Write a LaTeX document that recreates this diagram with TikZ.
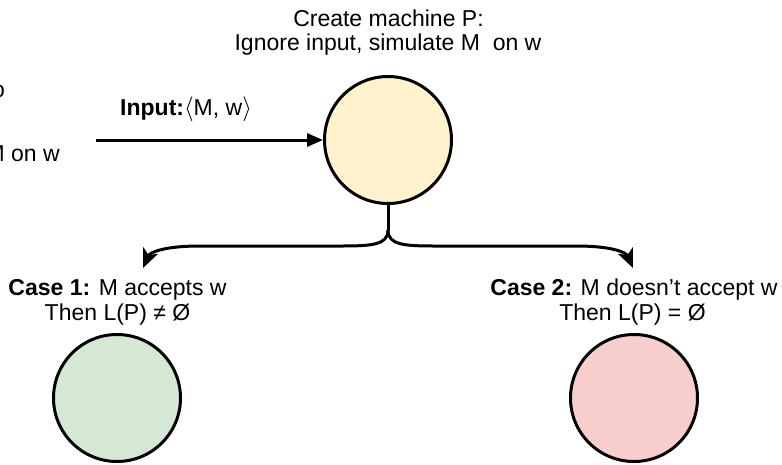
\documentclass[tikz,border=0pt]{standalone}
\usepackage{fontspec}
\setmainfont{Liberation Sans}
\usetikzlibrary{arrows.meta}
\definecolor{startfill}{HTML}{FFF2CC}
\definecolor{yesfill}{HTML}{D5E8D4}
\definecolor{nofill}{HTML}{F8CECC}
\tikzset{
  state/.style={circle, draw=black, line width=3pt, minimum size=127pt, inner sep=0pt},
  label text/.style={font=\fontsize{23}{26}\selectfont, inner sep=0pt, anchor=base},
  link/.style={line width=3pt, black},
  branch tip/.style={-{Stealth[length=19pt, width=16pt, inset=5pt]}},
}
\begin{document}
\begin{tikzpicture}[x=1pt, y=-1pt]
  \useasboundingbox (0,0) rectangle (782,464);
  \begin{scope}
    \clip (0,0) rectangle (782,464);

    % text continuing from the left margin
    \node[label text, anchor=base east] (lefta) at (5,97) {to};
    \node[label text, anchor=base east] (leftb) at (60,161) {M on w};

    % machine P and its description
    \node[state, fill=startfill] (p) at (388,140) {};
    \node[label text] (ptitle) at (388.5,26) {Create machine P:};
    \node[label text] (pdesc) at (388,50) {Ignore input, simulate M\ \ on w};

    % input arrow
    \coordinate (in) at (96,140);
    \draw[link, -{Triangle[length=16pt, width=13pt]}] (in) -- (p.west);
    \node[label text, anchor=base west] (inlabel) at (120,115)
      {\textbf{Input:}$\langle$M, w$\rangle$};

    % the two cases
    \node[state, fill=yesfill] (yes) at (117,398) {};
    \node[state, fill=nofill] (no) at (634,398) {};
    \node[label text] (case1a) at (117.5,295) {\textbf{Case 1:} M accepts w};
    \node[label text] (case1b) at (117.5,320) {Then L(P) ≠ Ø};
    \node[label text] (case2a) at (634,295) {\textbf{Case 2:} M doesn’t accept w};
    \node[label text] (case2b) at (632.5,320) {Then L(P) = Ø};

    % branching connector
    \coordinate (fork) at (388,230);
    \coordinate (t1) at (143,268);
    \coordinate (t2) at (633,268);
    \draw[link] (p.south) -- (fork);
    \draw[link, branch tip]
      (fork) .. controls (388,245) and (372,246) .. (340,246)
      -- (200,246) .. controls (165,246) and (150,252) .. (t1);
    \draw[link, branch tip]
      (fork) .. controls (388,245) and (404,246) .. (436,246)
      -- (576,246) .. controls (611,246) and (626,252) .. (t2);
  \end{scope}
\end{tikzpicture}
\end{document}
